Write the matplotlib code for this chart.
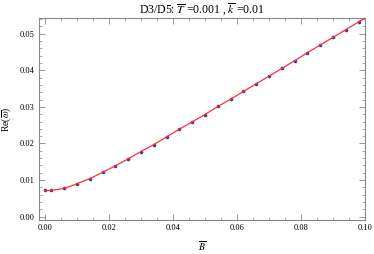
import matplotlib
matplotlib.use("Agg")
import matplotlib.pyplot as plt
from matplotlib.ticker import MultipleLocator, FixedLocator

plt.rcParams['font.family'] = ['Liberation Serif', 'DejaVu Serif']
plt.rcParams['mathtext.fontset'] = 'stix'

# data points
B_pts = [0.0, 0.002, 0.006, 0.010, 0.014, 0.018, 0.022, 0.026, 0.030, 0.034,
         0.038, 0.042, 0.046, 0.050, 0.054, 0.058, 0.062, 0.066, 0.070, 0.074,
         0.078, 0.082, 0.086, 0.090, 0.094, 0.098]
w_pts = [0.0072, 0.0072, 0.0078, 0.0090, 0.0104, 0.0121, 0.0139, 0.0158, 0.0178, 0.0197,
         0.0218, 0.0239, 0.0259, 0.0279, 0.0301, 0.0321, 0.0342, 0.0363, 0.0384, 0.0405,
         0.0426, 0.0448, 0.0469, 0.0490, 0.0511, 0.0532]

# fitted curve
B_line = [0.0, 0.002, 0.004, 0.006, 0.008, 0.010, 0.014, 0.018, 0.022, 0.026, 0.030,
          0.034, 0.038, 0.042, 0.046, 0.050, 0.054, 0.058, 0.062, 0.066, 0.070,
          0.074, 0.078, 0.082, 0.086, 0.090, 0.094, 0.098, 0.100]
w_line = [0.0071, 0.0072, 0.0074, 0.0078, 0.0083, 0.0090, 0.0104, 0.0121, 0.0139, 0.0158, 0.0178,
          0.0197, 0.0218, 0.0239, 0.0259, 0.0279, 0.0301, 0.0321, 0.0342, 0.0363, 0.0384,
          0.0405, 0.0426, 0.0448, 0.0469, 0.0490, 0.0511, 0.0532, 0.0543]

x_ticks = [0.0, 0.02, 0.04, 0.06, 0.08, 0.10]
x_ticklabels = ['0.00', '0.02', '0.04', '0.06', '0.08', '0.10']
y_ticks = [0.0, 0.01, 0.02, 0.03, 0.04, 0.05]
y_ticklabels = ['0.00', '0.01', '0.02', '0.03', '0.04', '0.05']

fig = plt.figure(figsize=(3.74, 2.54), dpi=100)
ax = fig.add_axes([0.104, 0.134, 0.872, 0.794])

ax.plot(B_pts, w_pts, 'o', color='#3a3a9a', markersize=2.6, markeredgewidth=0, zorder=2)
ax.plot(B_line, w_line, '-', color='#ff3030', linewidth=0.9, zorder=3)

ax.set_xlim(-0.0019, 0.1)
ax.set_ylim(-0.0009, 0.0542)

ax.xaxis.set_major_locator(FixedLocator(x_ticks))
ax.set_xticklabels(x_ticklabels)
ax.yaxis.set_major_locator(FixedLocator(y_ticks))
ax.set_yticklabels(y_ticklabels)
ax.xaxis.set_minor_locator(MultipleLocator(0.005))
ax.yaxis.set_minor_locator(MultipleLocator(0.002))

ax.tick_params(which='both', direction='in', top=True, right=True,
               color='#888888', labelsize=6, pad=3)
ax.tick_params(which='major', length=4, width=0.6)
ax.tick_params(which='minor', length=2, width=0.5)
for s in ax.spines.values():
    s.set_color('#888888')
    s.set_linewidth(0.8)

ax.set_title(r'D3/D5: $\overline{T}$ =0.001 , $\overline{k}$ =0.01', fontsize=8.5, pad=3)
ax.set_xlabel(r'$\overline{B}$', fontsize=7, labelpad=5)
ax.set_ylabel(r'Re($\overline{\omega}$)', fontsize=7, labelpad=5)

fig.savefig('out.png', dpi=100)
